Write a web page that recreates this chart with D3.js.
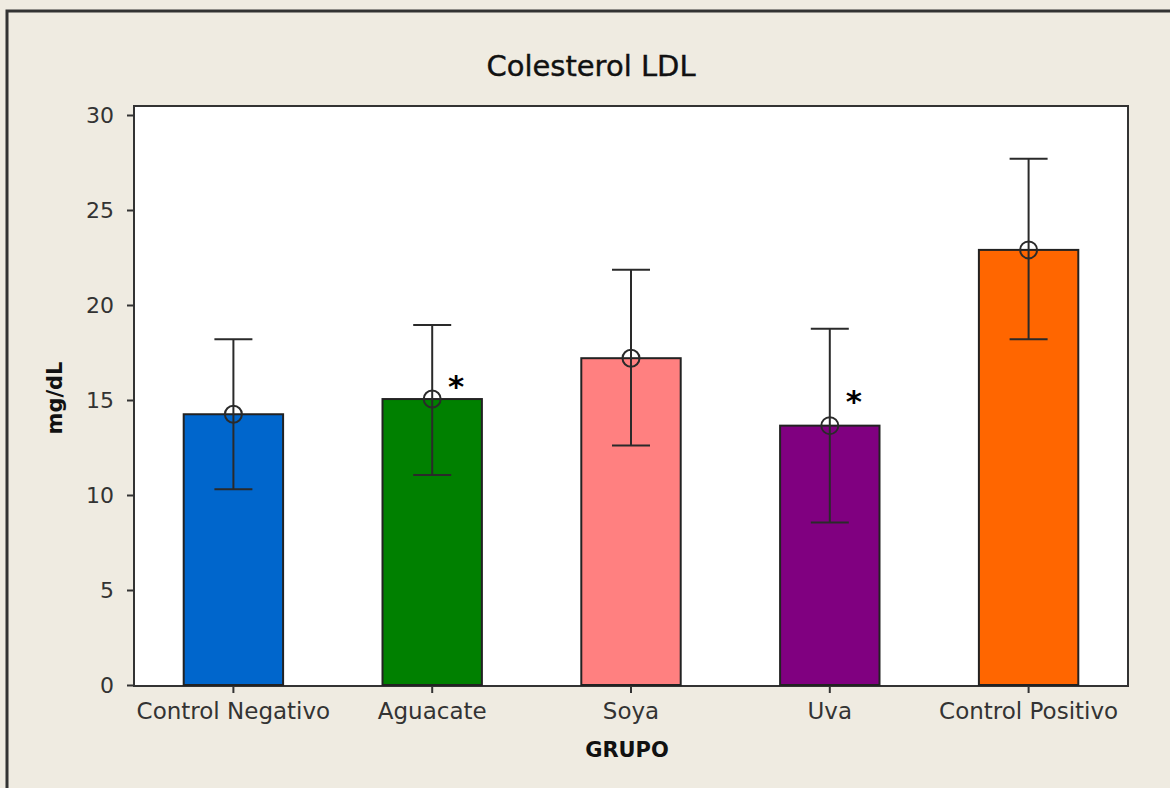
<!DOCTYPE html>
<html>
<head>
<meta charset="utf-8">
<script src="https://cdn.jsdelivr.net/npm/d3@7"></script>
<style>
  body { margin: 0; background: #efebe1; }
  text { font-family: "DejaVu Sans", sans-serif; fill: #222; }
</style>
</head>
<body>
<div id="chartdiv"></div>
<script>
/* --- Data --- */
let groups = ["Control Negativo", "Aguacate", "Soya", "Uva", "Control Positivo"]
let means = [14.25, 15.05, 17.2, 13.65, 22.9]
let upper = [18.2, 18.95, 21.85, 18.75, 27.7]
let lower = [10.3, 11.05, 12.6, 8.55, 18.2]
let colors = ["#0066cc", "#008000", "#ff8080", "#800080", "#ff6600"]
// significance marks: group and the value the star sits at
let starGroups = ["Aguacate", "Uva"]
let starValues = [15.9, 15.1]
let yTicks = [0, 5, 10, 15, 20, 25, 30]

/* -------------------- */

let width = 1170
let height = 788
let plotLeft = 134
let plotRight = 1128
let plotTop = 106
let plotBottom = 686

function drawChart(){
  let svg = d3.select('#chartdiv')
    .append('svg')
    .attr("width", width)
    .attr("height", height)

  // outer frame (left & top edges visible, others cut off)
  svg.append("rect")
    .attr("x", 7).attr("y", 11)
    .attr("width", width + 20).attr("height", height + 20)
    .attr("fill", "#efebe1")
    .attr("stroke", "#333").attr("stroke-width", 3)

  // plot area
  svg.append("rect")
    .attr("x", plotLeft).attr("y", plotTop)
    .attr("width", plotRight - plotLeft).attr("height", plotBottom - plotTop)
    .attr("fill", "#fff")
    .attr("stroke", "#333").attr("stroke-width", 2)

  let xscale = d3.scaleBand()
    .domain(groups)
    .range([plotLeft, plotRight])
    .paddingInner(0.5)
    .paddingOuter(0.25)

  let yscale = d3.scaleLinear()
    .domain([0, 30])
    .range([plotBottom - 1, 115])

  // bars
  svg.append("g").selectAll("rect")
    .data(groups)
    .join("rect")
    .attr("x", d => xscale(d))
    .attr("y", (d, i) => yscale(means[i]))
    .attr("width", xscale.bandwidth())
    .attr("height", (d, i) => yscale(0) - yscale(means[i]))
    .attr("fill", (d, i) => colors[i])
    .attr("stroke", "#222")
    .attr("stroke-width", 2)

  // error bars
  let cap = 19
  let eb = svg.append("g").attr("stroke", "#2a2a2a").attr("stroke-width", 2).attr("fill", "none")
  groups.forEach((g, i) => {
    let cx = xscale(g) + xscale.bandwidth() / 2
    eb.append("line")
      .attr("x1", cx).attr("x2", cx)
      .attr("y1", yscale(upper[i])).attr("y2", yscale(lower[i]))
    eb.append("line")
      .attr("x1", cx - cap).attr("x2", cx + cap)
      .attr("y1", yscale(upper[i])).attr("y2", yscale(upper[i]))
    eb.append("line")
      .attr("x1", cx - cap).attr("x2", cx + cap)
      .attr("y1", yscale(lower[i])).attr("y2", yscale(lower[i]))
    eb.append("circle")
      .attr("cx", cx).attr("cy", yscale(means[i]))
      .attr("r", 8.5)
  })

  // stars
  starGroups.forEach((g, i) => {
    svg.append("text")
      .attr("x", xscale(g) + xscale.bandwidth() / 2 + 24)
      .attr("y", yscale(starValues[i]) + 14)
      .attr("text-anchor", "middle")
      .attr("font-size", 31)
      .attr("font-weight", "bold")
      .style("fill", "#000")
      .text("*")
  })

  // y axis
  let y_axis = d3.axisLeft(yscale).tickValues(yTicks).tickSize(7).tickPadding(13)
  let ya = svg.append("g")
    .attr("transform", `translate(${plotLeft}, 0)`)
    .call(y_axis)
  ya.select(".domain").remove()
  ya.selectAll("line").attr("stroke", "#333").attr("stroke-width", 2)
  ya.selectAll("text").attr("font-size", 22).style("font-family", "DejaVu Sans").style("fill", "#333")

  // x axis
  let x_axis = d3.axisBottom(xscale).tickSize(7).tickPadding(10)
  let xa = svg.append("g")
    .attr("transform", `translate(0, ${plotBottom})`)
    .call(x_axis)
  xa.select(".domain").remove()
  xa.selectAll("line").attr("stroke", "#333").attr("stroke-width", 2)
  xa.selectAll("text").attr("font-size", 23).style("font-family", "DejaVu Sans").style("fill", "#333")

  // title and axis labels
  svg.append("text")
    .attr("x", 591).attr("y", 76)
    .attr("text-anchor", "middle")
    .attr("font-size", 29)
    .style("fill", "#111")
    .style("stroke", "#111").style("stroke-width", 0.4)
    .text("Colesterol LDL")

  svg.append("text")
    .attr("x", 627).attr("y", 757)
    .attr("text-anchor", "middle")
    .attr("font-size", 21)
    .attr("font-weight", "bold")
    .style("fill", "#111")
    .text("GRUPO")

  svg.append("text")
    .attr("transform", "translate(62, 398) rotate(-90)")
    .attr("text-anchor", "middle")
    .attr("font-size", 21)
    .attr("font-weight", "bold")
    .style("fill", "#111")
    .text("mg/dL")
}
drawChart()
</script>
</body>
</html>
